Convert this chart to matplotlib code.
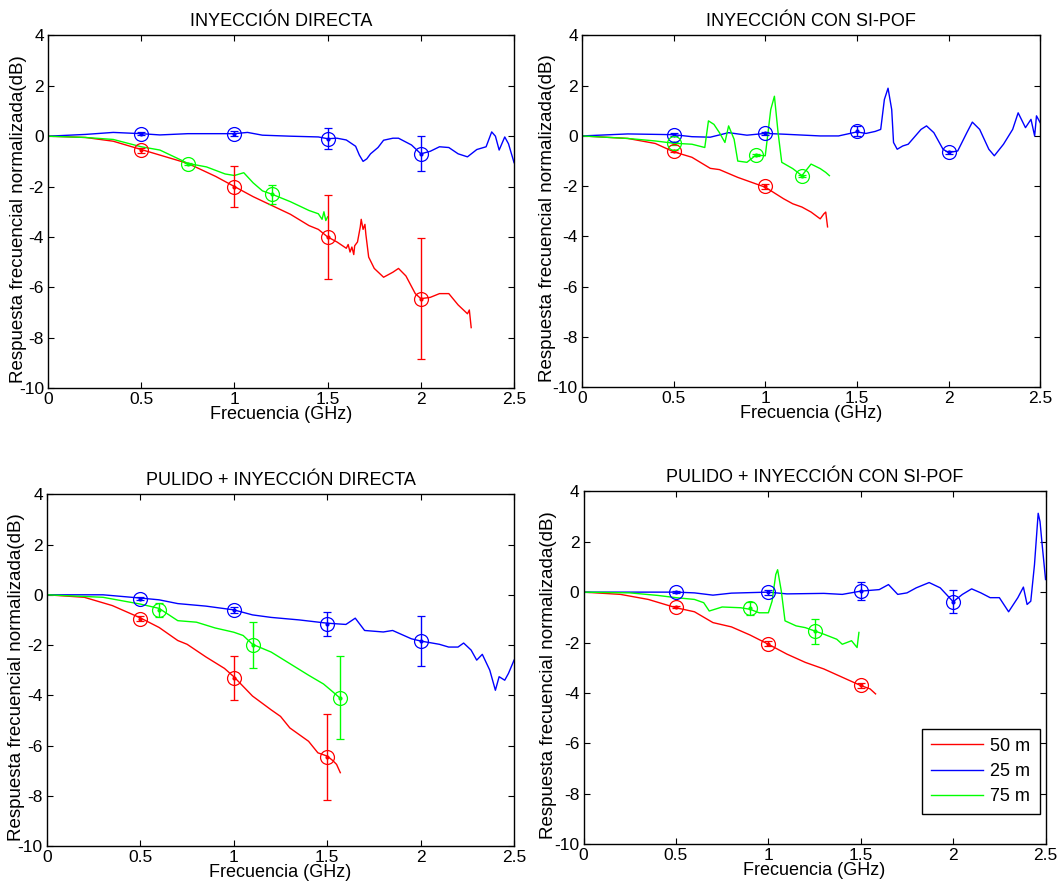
import matplotlib
matplotlib.use("Agg")
import matplotlib.pyplot as plt

plt.rcParams['font.family'] = ['Liberation Sans', 'DejaVu Sans']
plt.rcParams['axes.unicode_minus'] = False

# ---------------- Panel 1: INYECCIÓN DIRECTA ----------------
p1_blue_f = [0, 0.2, 0.35, 0.5, 0.6, 0.75, 0.9, 1.0, 1.07, 1.15, 1.3, 1.45, 1.5, 1.55, 1.6, 1.65, 1.67, 1.69, 1.71, 1.73,
             1.77, 1.8, 1.85, 1.88, 1.95, 2.0, 2.05, 2.1, 2.15, 2.2, 2.25, 2.3, 2.35, 2.38, 2.4, 2.42, 2.45, 2.47, 2.5]
p1_blue_v = [0, 0.07, 0.15, 0.1, 0.05, 0.1, 0.1, 0.1, 0.15, 0.04, 0.0, -0.03, -0.1, -0.08, -0.15, -0.4, -0.75, -1.0, -0.9, -0.7,
             -0.45, -0.16, -0.08, -0.08, -0.35, -0.7, -0.6, -0.42, -0.45, -0.7, -0.82, -0.53, -0.42, 0.17, 0.0, -0.55, -0.03, -0.3, -1.05]
p1_red_f = [0, 0.2, 0.35, 0.5, 0.6, 0.75, 0.9, 1.0, 1.1, 1.2, 1.3, 1.4, 1.45, 1.5, 1.55, 1.6, 1.61, 1.62, 1.63, 1.64, 1.645,
            1.66, 1.675, 1.68, 1.69, 1.70, 1.705, 1.72, 1.75, 1.8, 1.85, 1.88, 1.92, 1.97, 2.0, 2.05, 2.1, 2.15, 2.2, 2.25, 2.26, 2.27]
p1_red_v = [0, -0.05, -0.2, -0.53, -0.75, -1.08, -1.6, -2.0, -2.4, -2.75, -3.1, -3.55, -3.7, -4.0, -4.2, -4.45, -4.3, -4.6, -4.4, -4.7, -4.35,
            -4.2, -3.6, -3.3, -3.7, -3.5, -3.9, -4.8, -5.25, -5.6, -5.4, -5.25, -5.55, -6.25, -6.45, -6.4, -6.25, -6.25, -6.7, -7.05, -6.9, -7.6]
p1_green_f = [0, 0.2, 0.35, 0.5, 0.6, 0.7, 0.75, 0.85, 0.95, 1.0, 1.05, 1.1, 1.15, 1.2, 1.3, 1.4, 1.45, 1.47, 1.48, 1.49, 1.5]
p1_green_v = [0, -0.05, -0.13, -0.42, -0.55, -0.9, -1.08, -1.22, -1.5, -1.56, -1.45, -1.85, -2.17, -2.3, -2.6, -2.95, -3.08, -3.3, -3.0, -3.35, -3.2]
p1_err_f = {'r': [0.5, 1.0, 1.5, 2.0], 'b': [0.5, 1.0, 1.5, 2.0], 'g': [0.75, 1.2]}
p1_err_v = {'r': [-0.55, -2.0, -4.0, -6.45], 'b': [0.1, 0.1, -0.1, -0.7], 'g': [-1.1, -2.3]}
p1_err_e = {'r': [0.1, 0.82, 1.65, 2.4], 'b': [0.05, 0.1, 0.42, 0.7], 'g': [0.05, 0.38]}

# ---------------- Panel 2: INYECCIÓN CON SI-POF ----------------
p2_blue_f = [0, 0.25, 0.5, 0.6, 0.7, 0.8, 0.9, 1.0, 1.1, 1.3, 1.4, 1.5, 1.55, 1.6, 1.63, 1.65, 1.67, 1.69, 1.7, 1.72,
             1.75, 1.78, 1.85, 1.88, 1.92, 1.97, 2.0, 2.05, 2.1, 2.13, 2.17, 2.22, 2.25, 2.3, 2.35, 2.38, 2.42, 2.45, 2.47, 2.48, 2.5]
p2_blue_v = [0, 0.08, 0.05, -0.03, -0.05, 0.13, 0.03, 0.1, 0.07, 0.0, 0.0, 0.16, 0.1, 0.18, 0.26, 1.45, 1.9, 1.05, -0.26, -0.53,
             -0.4, -0.33, 0.26, 0.4, 0.13, -0.53, -0.66, -0.6, 0.13, 0.55, 0.26, -0.53, -0.79, -0.33, 0.26, 0.92, 0.33, 0.66, 0.0, 0.8, 0.53]
p2_red_f = [0, 0.25, 0.4, 0.5, 0.6, 0.7, 0.75, 0.85, 0.95, 1.0, 1.1, 1.15, 1.2, 1.25, 1.3, 1.32, 1.33, 1.34]
p2_red_v = [0, -0.1, -0.3, -0.63, -0.85, -1.29, -1.34, -1.65, -1.91, -2.04, -2.5, -2.7, -2.83, -3.03, -3.3, -3.1, -3.03, -3.62]
p2_green_f = [0, 0.25, 0.4, 0.5, 0.6, 0.67, 0.69, 0.72, 0.75, 0.78, 0.8, 0.83, 0.85, 0.9, 0.95, 1.0, 1.03, 1.05, 1.07,
              1.09, 1.15, 1.2, 1.25, 1.3, 1.33, 1.35]
p2_green_v = [0, -0.1, -0.2, -0.29, -0.33, -0.46, 0.6, 0.46, 0.13, -0.26, 0.4, -0.13, -1.0, -1.05, -0.76, -0.79, 1.05, 1.58, 0.13,
              -1.05, -1.3, -1.58, -1.12, -1.3, -1.45, -1.58]
p2_err_f = {'r': [0.5, 1.0], 'b': [0.5, 1.0, 1.5, 2.0], 'g': [0.5, 0.95, 1.2]}
p2_err_v = {'r': [-0.6, -2.0], 'b': [0.05, 0.1, 0.2, -0.65], 'g': [-0.3, -0.75, -1.6]}
p2_err_e = {'r': [0.05, 0.1], 'b': [0.05, 0.05, 0.2, 0.05], 'g': [0.05, 0.05, 0.05]}

# ---------------- Panel 3: PULIDO + INYECCIÓN DIRECTA ----------------
p3_blue_f = [0, 0.3, 0.5, 0.6, 0.7, 0.85, 1.0, 1.1, 1.2, 1.35, 1.5, 1.6, 1.65, 1.7, 1.8, 1.85, 1.95, 2.0, 2.1, 2.15,
             2.2, 2.23, 2.27, 2.3, 2.33, 2.37, 2.4, 2.42, 2.45, 2.47, 2.5]
p3_blue_v = [0, 0.0, -0.13, -0.2, -0.35, -0.45, -0.6, -0.8, -0.9, -1.0, -1.13, -1.18, -0.93, -1.42, -1.48, -1.42, -1.75, -1.84, -1.97, -2.08,
             -2.08, -1.92, -2.2, -2.6, -2.37, -3.0, -3.8, -3.26, -3.4, -3.13, -2.6]
p3_red_f = [0, 0.2, 0.35, 0.5, 0.6, 0.7, 0.75, 0.85, 0.95, 1.0, 1.1, 1.2, 1.25, 1.3, 1.4, 1.45, 1.5, 1.53, 1.55, 1.57]
p3_red_v = [0, -0.1, -0.43, -0.92, -1.3, -1.82, -1.97, -2.47, -2.93, -3.26, -4.03, -4.58, -4.84, -5.3, -5.83, -6.29, -6.42, -6.6, -6.75, -7.08]
p3_green_f = [0, 0.3, 0.5, 0.6, 0.7, 0.8, 0.9, 1.0, 1.05, 1.1, 1.2, 1.3, 1.4, 1.48, 1.52, 1.57]
p3_green_v = [0, -0.1, -0.37, -0.54, -1.03, -1.09, -1.32, -1.49, -1.62, -1.97, -2.28, -2.74, -3.2, -3.55, -3.8, -4.12]
p3_err_f = {'r': [0.5, 1.0, 1.5], 'b': [0.5, 1.0, 1.5, 2.0], 'g': [0.6, 1.1, 1.57]}
p3_err_v = {'r': [-0.95, -3.3, -6.45], 'b': [-0.15, -0.62, -1.15, -1.85], 'g': [-0.6, -2.0, -4.1]}
p3_err_e = {'r': [0.1, 0.87, 1.72], 'b': [0.05, 0.12, 0.48, 1.0], 'g': [0.28, 0.92, 1.65]}

# ---------------- Panel 4: PULIDO + INYECCIÓN CON SI-POF ----------------
p4_blue_f = [0, 0.3, 0.5, 0.6, 0.7, 0.8, 1.0, 1.1, 1.3, 1.4, 1.5, 1.6, 1.65, 1.7, 1.75, 1.8, 1.87, 1.93, 2.0, 2.05,
             2.1, 2.15, 2.2, 2.25, 2.3, 2.35, 2.38, 2.4, 2.42, 2.44, 2.46, 2.47, 2.48, 2.5]
p4_blue_v = [0, 0.0, 0.0, -0.03, -0.12, -0.04, 0.0, -0.07, -0.05, -0.09, 0.04, 0.1, 0.3, -0.09, -0.03, 0.17, 0.38, 0.17, -0.38, -0.09,
             0.13, -0.03, -0.22, -0.22, -0.78, -0.22, 0.2, -0.49, -0.36, 1.09, 3.13, 2.8, 2.0, 0.5]
p4_red_f = [0, 0.2, 0.35, 0.5, 0.6, 0.7, 0.8, 0.9, 1.0, 1.1, 1.2, 1.3, 1.4, 1.5, 1.55, 1.58]
p4_red_v = [0, -0.09, -0.29, -0.62, -0.78, -1.21, -1.38, -1.7, -2.07, -2.46, -2.79, -3.05, -3.38, -3.71, -3.84, -4.04]
p4_green_f = [0, 0.25, 0.4, 0.5, 0.6, 0.65, 0.68, 0.75, 0.85, 0.9, 0.95, 1.0, 1.02, 1.04, 1.05, 1.07, 1.09,
              1.15, 1.2, 1.25, 1.3, 1.37, 1.4, 1.45, 1.48, 1.49]
p4_green_v = [0, -0.03, -0.13, -0.22, -0.29, -0.42, -0.75, -0.59, -0.62, -0.68, -0.82, -0.82, -0.36, 0.7, 0.89, 0.04, -1.14,
              -1.34, -1.41, -1.54, -1.67, -1.87, -2.07, -1.93, -2.2, -1.6]
p4_err_f = {'r': [0.5, 1.0, 1.5], 'b': [0.5, 1.0, 1.5, 2.0], 'g': [0.9, 1.25]}
p4_err_v = {'r': [-0.6, -2.05, -3.7], 'b': [0.0, 0.0, 0.05, -0.38], 'g': [-0.65, -1.55]}
p4_err_e = {'r': [0.05, 0.1, 0.1], 'b': [0.05, 0.1, 0.35, 0.45], 'g': [0.25, 0.5]}

titles = ['INYECCIÓN DIRECTA', 'INYECCIÓN CON SI-POF',
          'PULIDO + INYECCIÓN DIRECTA', 'PULIDO + INYECCIÓN CON SI-POF']
legend_labels = ['50 m', '25 m', '75 m']
xticks = [0, 0.5, 1, 1.5, 2, 2.5]
xticklabels = ['0', '0.5', '1', '1.5', '2', '2.5']
yticks = [-10, -8, -6, -4, -2, 0, 2, 4]

panels = [
    (p1_red_f, p1_red_v, p1_blue_f, p1_blue_v, p1_green_f, p1_green_v, p1_err_f, p1_err_v, p1_err_e),
    (p2_red_f, p2_red_v, p2_blue_f, p2_blue_v, p2_green_f, p2_green_v, p2_err_f, p2_err_v, p2_err_e),
    (p3_red_f, p3_red_v, p3_blue_f, p3_blue_v, p3_green_f, p3_green_v, p3_err_f, p3_err_v, p3_err_e),
    (p4_red_f, p4_red_v, p4_blue_f, p4_blue_v, p4_green_f, p4_green_v, p4_err_f, p4_err_v, p4_err_e),
]

rects = [
    [0.0452, 0.562, 0.4384, 0.398],
    [0.5475, 0.563, 0.431, 0.397],
    [0.0442, 0.0451, 0.4394, 0.397],
    [0.549, 0.0474, 0.4346, 0.398],
]
ylabel_x = [-0.046, -0.056, -0.046, -0.058]

colors = {'r': '#ff0000', 'b': '#0000ff', 'g': '#00ff00'}

fig = plt.figure(figsize=(10.63, 8.86), dpi=100)

for i, (rect, pdata, title) in enumerate(zip(rects, panels, titles)):
    ax = fig.add_axes(rect)
    rf, rv, bf, bv, gf, gv, ef, ev, ee = pdata
    l1, = ax.plot(rf, rv, color=colors['r'], lw=1.0)
    l2, = ax.plot(bf, bv, color=colors['b'], lw=1.0)
    l3, = ax.plot(gf, gv, color=colors['g'], lw=1.0)
    for key in ['r', 'b', 'g']:
        ax.errorbar(ef[key], ev[key], yerr=ee[key], fmt='o', color=colors[key],
                    mfc='none', ms=10, mew=0.9, elinewidth=1.0, capsize=3, capthick=1.0)
        ax.plot(ef[key], ev[key], '.', color=colors[key], ms=4)
    ax.set_xlim(0, 2.5)
    ax.set_ylim(-10, 4)
    ax.set_xticks(xticks)
    ax.set_xticklabels(xticklabels)
    ax.set_yticks(yticks)
    ax.tick_params(direction='in', top=True, right=True, length=4, labelsize=12.5, pad=3)
    for s in ax.spines.values():
        s.set_linewidth(1.0)
    ax.set_title(title, fontsize=13, pad=7)
    ax.set_xlabel('Frecuencia (GHz)', fontsize=13, labelpad=-1)
    ax.set_ylabel('Respuesta frecuencial normalizada(dB)', fontsize=13.5)
    ax.yaxis.set_label_coords(ylabel_x[i], 0.48)
    if i == 3:
        leg = ax.legend([l1, l2, l3], legend_labels, loc='lower right', fontsize=13,
                        frameon=True, fancybox=False, edgecolor='black', framealpha=1,
                        handlelength=2.9, handletextpad=0.4, borderpad=0.5, labelspacing=0.45,
                        borderaxespad=0, bbox_to_anchor=(0.987, 0.085))
        leg.get_frame().set_linewidth(1.0)

fig.savefig('out.png', dpi=100)
